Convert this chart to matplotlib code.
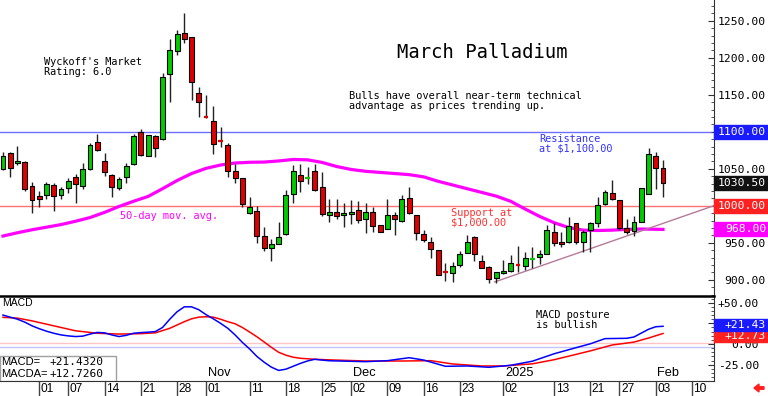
import matplotlib
matplotlib.use("Agg")
import matplotlib.pyplot as plt
import matplotlib.transforms as mtransforms
from matplotlib.patches import Rectangle, FancyArrow
from matplotlib.ticker import MultipleLocator

# daily candles, index 0 = Sep 24 2024 ... 91 = Feb 04 2025
opens = [1049.6, 1071.2, 1057.7, 1059.0, 1026.6, 1013.1, 1014.5, 1028.0, 1014.5, 1023.9,
         1038.8, 1026.6, 1049.6, 1086.1, 1060.4, 1041.5, 1023.9, 1038.8, 1056.4, 1099.6,
         1067.2, 1094.2, 1090.1, 1177.9, 1209.1, 1233.4, 1228.0, 1152.3, 1120.5, 1114.5,
         1088.1, 1082.0, 1046.9, 1037.4, 990.1, 992.8, 959.0, 942.8, 948.2, 961.8,
         1015.8, 1041.5, 1038.1, 1046.9, 1025.3, 987.4, 991.5, 987.4, 988.8, 994.2,
         982.0, 991.5, 973.9, 968.5, 987.4, 979.3, 1010.4, 987.4, 961.8, 950.9,
         940.1, 911.0, 909.1, 919.9, 936.1, 957.7, 925.3, 917.2, 902.3, 909.1,
         911.8, 920.5, 918.5, 928.6, 930.7, 934.7, 964.5, 950.9, 950.9, 976.6,
         950.9, 967.2, 976.6, 1002.3, 1017.2, 1007.7, 969.9, 965.8, 978.0, 1015.8,
         1067.2, 1050.9]
highs = [1072.6, 1072.6, 1080.7, 1060.4, 1032.0, 1019.9, 1032.0, 1030.7, 1025.3, 1037.4,
         1042.8, 1057.7, 1084.7, 1096.9, 1071.2, 1042.8, 1038.8, 1057.7, 1096.9, 1103.6,
         1095.5, 1095.5, 1179.3, 1225.3, 1237.4, 1260.4, 1228.0, 1160.4, 1149.6, 1134.7,
         1106.4, 1084.7, 1056.4, 1037.4, 1011.8, 999.6, 971.2, 955.0, 977.9, 1021.2,
         1055.0, 1056.4, 1052.3, 1056.4, 1045.5, 1009.0, 1009.0, 1003.6, 1007.7, 1006.3,
         1003.6, 998.2, 973.9, 1009.0, 991.5, 1014.5, 1025.3, 987.4, 967.2, 957.7,
         940.1, 922.6, 923.9, 938.8, 960.4, 959.0, 933.3, 918.5, 910.4, 926.6,
         933.3, 945.5, 937.4, 944.2, 940.1, 973.9, 976.6, 964.5, 984.7, 976.6,
         967.2, 977.9, 1011.8, 1021.2, 1034.7, 1007.7, 982.0, 986.1, 1023.9, 1078.0,
         1072.6, 1061.8]
lows = [1048.0, 1038.8, 1055.0, 1019.9, 990.1, 998.2, 1009.0, 992.8, 1009.0, 1017.2,
        1003.6, 1022.6, 1048.2, 1073.9, 1040.0, 1011.8, 1021.2, 1030.7, 1055.0, 1067.2,
        1067.2, 1065.8, 1088.8, 1140.1, 1203.6, 1219.9, 1142.7, 1119.9, 1118.5, 1069.9,
        1079.3, 1038.8, 1030.7, 998.2, 988.8, 949.6, 938.8, 925.3, 948.2, 960.4,
        1003.6, 1018.5, 1029.3, 1019.9, 986.1, 978.0, 982.0, 971.2, 975.3, 976.6,
        963.1, 964.5, 964.5, 968.5, 960.4, 978.0, 988.8, 953.6, 950.9, 929.3,
        906.4, 898.2, 896.9, 917.2, 936.1, 925.3, 915.8, 895.5, 895.5, 907.7,
        910.4, 910.4, 913.1, 915.8, 921.2, 934.7, 945.5, 944.2, 949.6, 948.2,
        937.4, 937.4, 971.2, 1000.9, 1007.7, 967.2, 961.8, 959.0, 978.0, 1015.8,
        1022.6, 1011.8]
closes = [1067.2, 1051.0, 1060.4, 1022.6, 1007.7, 1009.0, 1029.3, 1013.1, 1022.6, 1033.4,
          1029.3, 1049.6, 1082.0, 1075.3, 1045.5, 1025.3, 1036.1, 1053.6, 1094.2, 1068.5,
          1095.5, 1078.0, 1173.9, 1210.4, 1232.0, 1225.3, 1167.2, 1140.1, 1119.2, 1083.4,
          1086.8, 1046.9, 1037.4, 1002.3, 998.2, 959.0, 942.8, 948.2, 957.7, 1014.5,
          1046.9, 1033.4, 1039.5, 1021.2, 988.8, 991.5, 986.1, 990.1, 991.5, 980.7,
          991.5, 972.6, 964.5, 987.4, 982.0, 1009.0, 990.1, 963.1, 953.6, 941.5,
          906.4, 909.7, 918.5, 934.7, 950.9, 934.7, 915.8, 901.0, 910.4, 911.8,
          922.6, 919.2, 929.3, 930.0, 934.7, 967.2, 949.6, 948.2, 972.6, 950.9,
          964.5, 976.6, 1000.9, 1018.5, 1009.0, 969.9, 964.5, 978.0, 1023.9, 1069.9,
          1050.9, 1030.5]

# 50-day moving average
ma_idx = [0, 2, 4, 6, 8, 10, 12, 14, 16, 18, 20, 22, 24, 26, 28, 30, 32, 34, 36, 38,
          40, 42, 44, 46, 48, 50, 52, 54, 56, 58, 60, 62, 64, 66, 68, 70, 72, 74, 76,
          78, 80, 82, 84, 86, 88, 91]
ma_val = [959, 963.5, 967.5, 971, 974.5, 979, 984, 991, 999, 1006, 1012.5, 1023, 1034,
          1043.5, 1050.5, 1055, 1057.7, 1058.7, 1059, 1060.5, 1062.5, 1062, 1058.5, 1053,
          1049, 1046.5, 1045, 1043.5, 1042, 1039, 1033, 1028, 1023, 1018, 1013, 1006,
          995.5, 985.5, 977, 970.5, 967, 966.5, 967, 968, 968.5, 968]

# MACD (blue) and its average (red)
macd_idx = list(range(0, 46)) + [50, 53, 56, 58, 61, 64, 67, 70, 73, 76, 79, 81, 83,
                                 86, 87, 89, 90, 91]
macd_val = [35, 32.5, 30, 26.5, 22, 18.5, 15.5, 13, 11, 9.8, 9, 9.5, 12, 14, 13.5, 11,
            9, 10.5, 13, 13.8, 14.3, 15, 20, 30, 39, 45, 45, 41.5, 35.5, 30.5, 25, 19,
            11, 2, -6, -15, -22, -28, -32, -30.5, -27, -23.5, -20.5, -18.5, -19.5,
            -20.3, -21.4, -20.2, -16.6, -19.4, -27, -26.6, -28.2, -25.8, -20.8, -11.8,
            -4.5, 0.3, 6.5, 6.9, 8.5, 17.8, 20.9, 21.432]
sig_idx = [0, 2, 4, 6, 8, 10, 13, 16, 19, 21, 23, 25, 26, 27, 28, 29, 30, 31, 32, 33,
           34, 35, 36, 37, 38, 39, 40, 41, 43, 45, 50, 55, 59, 62, 66, 69, 73, 76, 79,
           81, 84, 87, 89, 91]
sig_val = [32.3, 31.3, 28, 24, 20, 16, 13, 12, 12.5, 13.5, 19, 27, 30.5, 32.5, 33, 32.5,
           30, 27, 24.5, 20, 14.5, 8.8, 2.5, -4, -10, -13.5, -16, -17.3, -18.5, -19.2,
           -20.6, -20.6, -20.2, -24.2, -26.6, -26.6, -24, -19, -12.6, -8.3, -1.2, 2.3,
           7.2, 12.726]

# uptrend line
trend_idx = [67.8, 98.0]
trend_val = [897, 1000]

resistance = 1100.0
support = 1000.0

tick_idx = [5, 9, 14, 19, 24, 28, 34, 39, 44, 48, 53, 58, 63, 69, 76, 81, 85, 90, 95]
tick_lbl = ["01", "07", "14", "21", "28", "01", "11", "18", "25", "02", "09", "16",
            "23", "02", "13", "21", "27", "03", "10"]
month_idx = [28, 48, 69, 90]
month_lbl = ["Nov", "Dec", "2025", "Feb"]

price_ticks = [900, 950, 1050, 1150, 1200, 1250]
macd_ticks = [-25, 0, 25, 50]

MONO = "DejaVu Sans Mono"
SANS = "Liberation Sans"
GREEN = "#00cc00"
RED = "#e00000"

W, H = 768, 396
fig = plt.figure(figsize=(W / 100, H / 100), dpi=100)
ax = fig.add_axes([0, 100 / H, 714 / W, 296 / H])
axm = fig.add_axes([0, 15 / H, 714 / W, 85 / H], sharex=ax)

# candles
for i, (o, h, l, c) in enumerate(zip(opens, highs, lows, closes)):
    col = GREEN if c >= o else RED
    ax.vlines(i, l, h, color="#222222", lw=1, zorder=3)
    if abs(c - o) < 2:
        ax.hlines(o, i - 0.3, i + 0.3, color=col, lw=1.6, zorder=4)
    else:
        ax.bar(i, abs(c - o), bottom=min(o, c), width=0.68, color=col,
               edgecolor="black", linewidth=0.8, zorder=4)

ax.axhline(resistance, color="#6f6fff", lw=1, zorder=1)
ax.axhline(support, color="#ff7070", lw=1, zorder=1)
ax.plot(ma_idx, ma_val, color="#ff00ff", lw=2.3, zorder=2, solid_joinstyle="round")
ax.plot(trend_idx, trend_val, color="#b57a9a", lw=1, zorder=2)

ax.set_xlim(-0.41, 98.03)
ax.set_ylim(878, 1278)
for s in ["top", "left", "bottom"]:
    ax.spines[s].set_visible(False)
ax.spines["right"].set_color("#333333")
ax.yaxis.tick_right()
ax.set_yticks(price_ticks)
ax.set_yticklabels([f"{v:.2f}" for v in price_ticks], fontfamily=MONO, fontsize=8.2)
ax.yaxis.set_minor_locator(MultipleLocator(10))
ax.tick_params(axis="y", which="major", direction="in", length=4, pad=37.4, color="#333333")
ax.tick_params(axis="y", which="minor", direction="in", length=2, color="#333333")
plt.setp(ax.get_yticklabels(), ha="right")
ax.tick_params(axis="x", which="both", bottom=False, labelbottom=False)

# value boxes on the right axis
btrans = mtransforms.blended_transform_factory(ax.transAxes, ax.transData)
for v, txt, col in [(resistance, "1100.00", "#1a1aff"), (closes[-1], "1030.50", "#111111"),
                    (support, "1000.00", "#ff2020"), (ma_val[-1], "968.00", "#ff00ff")]:
    ax.add_patch(Rectangle((1.0, v - 9.5), 54 / 714, 19, transform=btrans, color=col,
                           clip_on=False, zorder=5))
    ax.text(766 / 714, v, txt, transform=btrans, ha="right", va="center", color="white",
            fontfamily=MONO, fontsize=8.2, zorder=6, clip_on=False)


def atext(px, py, s, **kw):
    ax.text(px / 714, 1 - py / 296, s, transform=ax.transAxes, fontfamily=MONO,
            linespacing=0.95, **kw)


atext(482, 52, "March Palladium", fontsize=13.6, ha="center", va="center")
atext(44, 67, "Wyckoff's Market\nRating: 6.0", fontsize=7.4, va="center")
atext(349, 101, "Bulls have overall near-term technical\nadvantage as prices trending up.",
      fontsize=7.4, va="center")
atext(539, 144, "Resistance\nat $1,100.00", fontsize=7.4, va="center", color="#3333ff")
atext(451, 218, "Support at\n$1,000.00", fontsize=7.4, va="center", color="#ff3030")
atext(120, 216, "50-day mov. avg.", fontsize=7.4, va="center", color="#ff00ff")

# MACD panel
axm.axhline(0.8, color="#ffc4c4", lw=1, zorder=1)
axm.axhline(-4, color="#c4c4ff", lw=1, zorder=1)
axm.plot(sig_idx, sig_val, color="#ff0000", lw=1.1, zorder=3, solid_joinstyle="round")
axm.plot(macd_idx, macd_val, color="#0000ff", lw=1.1, zorder=4, solid_joinstyle="round")
axm.set_ylim(-44.8, 58.1)
axm.spines["left"].set_visible(False)
axm.spines["top"].set_linewidth(1.8)
axm.spines["top"].set_color("black")
axm.spines["right"].set_color("#333333")
axm.spines["bottom"].set_color("#333333")
axm.yaxis.tick_right()
axm.set_yticks(macd_ticks)
axm.set_yticklabels(["-25.00", "0.00", "+25.00", "+50.00"], fontfamily=MONO, fontsize=8.2)
axm.yaxis.set_minor_locator(MultipleLocator(5))
axm.tick_params(axis="y", which="major", direction="in", length=4, pad=32.4, color="#333333")
axm.tick_params(axis="y", which="minor", direction="in", length=2, color="#333333")
plt.setp(axm.get_yticklabels(), ha="right")

axm.set_xticks(tick_idx)
axm.tick_params(axis="x", direction="out", length=10.8, width=1, color="#444444",
                labelbottom=False)
xtr = mtransforms.blended_transform_factory(axm.transData, axm.transAxes)
for i, s in zip(tick_idx, tick_lbl):
    axm.text(i + 0.2, -0.09, s, transform=xtr, ha="left", va="center",
             fontfamily=SANS, fontsize=8.6, clip_on=False)
for i, s in zip(month_idx, month_lbl):
    axm.text(i + 0.2, 0.09, s, transform=xtr, ha="left", va="center",
             fontfamily=SANS, fontsize=9.2)

mtr = mtransforms.blended_transform_factory(axm.transAxes, axm.transData)
for v, txt, col, z in [(sig_val[-1] - 3.5, f"{sig_val[-1]:+.2f}", "#ff2020", 5),
                       (macd_val[-1] + 1.5, f"{macd_val[-1]:+.2f}", "#1a1aff", 7)]:
    axm.add_patch(Rectangle((1.0, v - 7), 54 / 714, 14, transform=mtr, color=col,
                            clip_on=False, zorder=z))
    axm.text(766 / 714, v, txt, transform=mtr, ha="right", va="center", color="white",
             fontfamily=MONO, fontsize=8.2, zorder=z + 1, clip_on=False)

axm.text(2 / 714, 0.92, "MACD", transform=axm.transAxes, fontfamily=SANS, fontsize=7.5,
         va="center")
axm.text(536 / 714, (381 - 320) / 85, "MACD posture\nis bullish", transform=axm.transAxes,
         fontfamily=MONO, fontsize=7.4, va="center", linespacing=0.95)
axm.add_patch(Rectangle((0, 0), 116 / 714, 25 / 85, transform=axm.transAxes,
                        facecolor="white", edgecolor="#a0a0a0", lw=1, zorder=8))
axm.text(1 / 714, 19 / 85, "MACD=", transform=axm.transAxes, fontfamily=SANS,
         fontsize=8, va="center", zorder=9)
axm.text(1 / 714, 7 / 85, "MACDA=", transform=axm.transAxes, fontfamily=SANS,
         fontsize=8, va="center", zorder=9)
axm.text(50 / 714, 19 / 85, f"{macd_val[-1]:+.4f}", transform=axm.transAxes,
         fontfamily=MONO, fontsize=8, va="center", zorder=9)
axm.text(50 / 714, 7 / 85, f"{sig_val[-1]:+.4f}", transform=axm.transAxes,
         fontfamily=MONO, fontsize=8, va="center", zorder=9)

fig.patches.append(FancyArrow(
    764 / W, 8 / H, -10 / W, 0, width=2.5 / H, head_width=8 / H, head_length=5 / W,
    length_includes_head=True, color="#ff2020", transform=fig.transFigure))

fig.savefig("out.png", dpi=100)
